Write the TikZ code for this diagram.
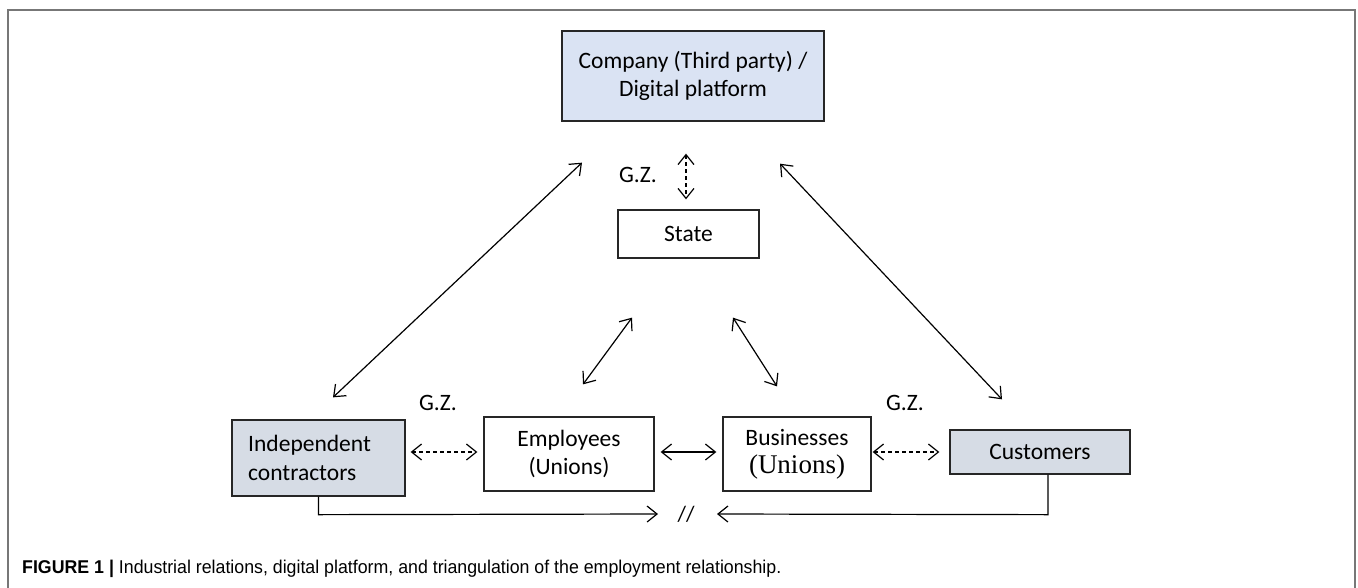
\documentclass[tikz,border=0pt]{standalone}
\usepackage{fontspec}
\setmainfont{Carlito}
\newfontfamily\capfont{Liberation Sans}
\newfontfamily\serifalt{Liberation Serif}
\usetikzlibrary{arrows.meta,calc}
\definecolor{topblue}{HTML}{DAE3F3}
\definecolor{sideblue}{HTML}{D6DCE5}
\definecolor{framegray}{HTML}{777777}
\begin{document}
\begin{tikzpicture}[x=1pt,y=-1pt,
  box/.style={draw=black!85, line width=1.3pt, rectangle, inner sep=0pt, align=center, font=\fontsize{23.5}{28}\selectfont},
  dbl/.style={line width=1.2pt, {Straight Barb[length=10pt,width=16pt]}-{Straight Barb[length=10pt,width=16pt]}},
  dashdbl/.style={dbl, dash pattern=on 4pt off 3pt},
  onearrow/.style={line width=1.2pt, -{Straight Barb[length=10pt,width=16pt]}},
  lbl/.style={font=\fontsize{23.5}{28}\selectfont, inner sep=0pt}
]
\useasboundingbox (0,0) rectangle (1358,587);
\fill[white] (0,0) rectangle (1358,587);
% frame
\draw[framegray, line width=2pt] (8,592) -- (8,10) -- (1355,10) -- (1355,592);

% nodes
\node[box, fill=topblue, minimum width=262pt, minimum height=90pt] (company) at (693,76) {Company (Third party) /\\Digital platform};
\node[box, minimum width=141pt, minimum height=48pt] (state) at (688.5,234) {State};
\node[box, fill=sideblue, minimum width=173pt, minimum height=76pt] (indep) at (318.5,458) {};
\node[anchor=west, align=left, font=\fontsize{23.5}{29}\selectfont, inner sep=0pt] (indeptext) at (248,458) {Independent\\contractors};
\node[box, minimum width=170pt, minimum height=74pt] (employees) at (569,454) {Employees\\(Unions)};
\node[box, minimum width=148pt, minimum height=74pt] (businesses) at (797,454) {Businesses\\{\serifalt\fontsize{27}{28}\selectfont(Unions)}};
\node[box, fill=sideblue, minimum width=180pt, minimum height=44pt] (customers) at (1040,452) {Customers};

% G.Z. labels
\node[lbl] (gz1) at (638,175) {G.Z.};
\node[lbl] (gz2) at (438,403) {G.Z.};
\node[lbl] (gz3) at (905,403) {G.Z.};

% double-headed connectors
\draw[dbl] ([shift={(14.5,-22)}]indep.north) -- ([shift={(-111,41)}]company.south);
\draw[dbl] ([shift={(-38,-30)}]customers.north) -- ([shift={(87,42)}]company.south);
\draw[dbl] ([shift={(-56.5,59)}]state.south) -- ([shift={(14,-32)}]employees.north);
\draw[dbl] ([shift={(44.5,59)}]state.south) -- ([shift={(-20,-30)}]businesses.north);
\draw[dashdbl] ([shift={(-7,32)}]company.south) -- ([shift={(-2.5,-10)}]state.north);
\draw[dashdbl] ([shift={(5,-6)}]indep.east) -- ([shift={(-6,-2)}]employees.west);
\draw[dbl] ([shift={(6,-2)}]employees.east) -- ([shift={(-6,-2)}]businesses.west);
\draw[dashdbl] ([shift={(1,-2)}]businesses.east) -- ([shift={(-10,0)}]customers.west);

% bottom connectors
\node[font=\fontsize{22}{22}\selectfont, inner sep=0pt] (slash) at (686,514) {//};
\draw[onearrow] (indep.south) -- ++(0,18) -- ([xshift=-28pt]slash.center |- 0,514);
\draw[onearrow] ([xshift=8pt]customers.south) -- ++(0,40) -- ([xshift=31pt]slash.center |- 0,514);

% caption
\node[anchor=west, inner sep=0pt, font=\capfont\fontsize{18.5}{21}\selectfont] (caption) at (22,569) {\scalebox{0.96}[1]{\textbf{FIGURE 1} \textbf{|} Industrial relations, digital platform, and triangulation of the employment relationship.}};
\end{tikzpicture}
\end{document}
